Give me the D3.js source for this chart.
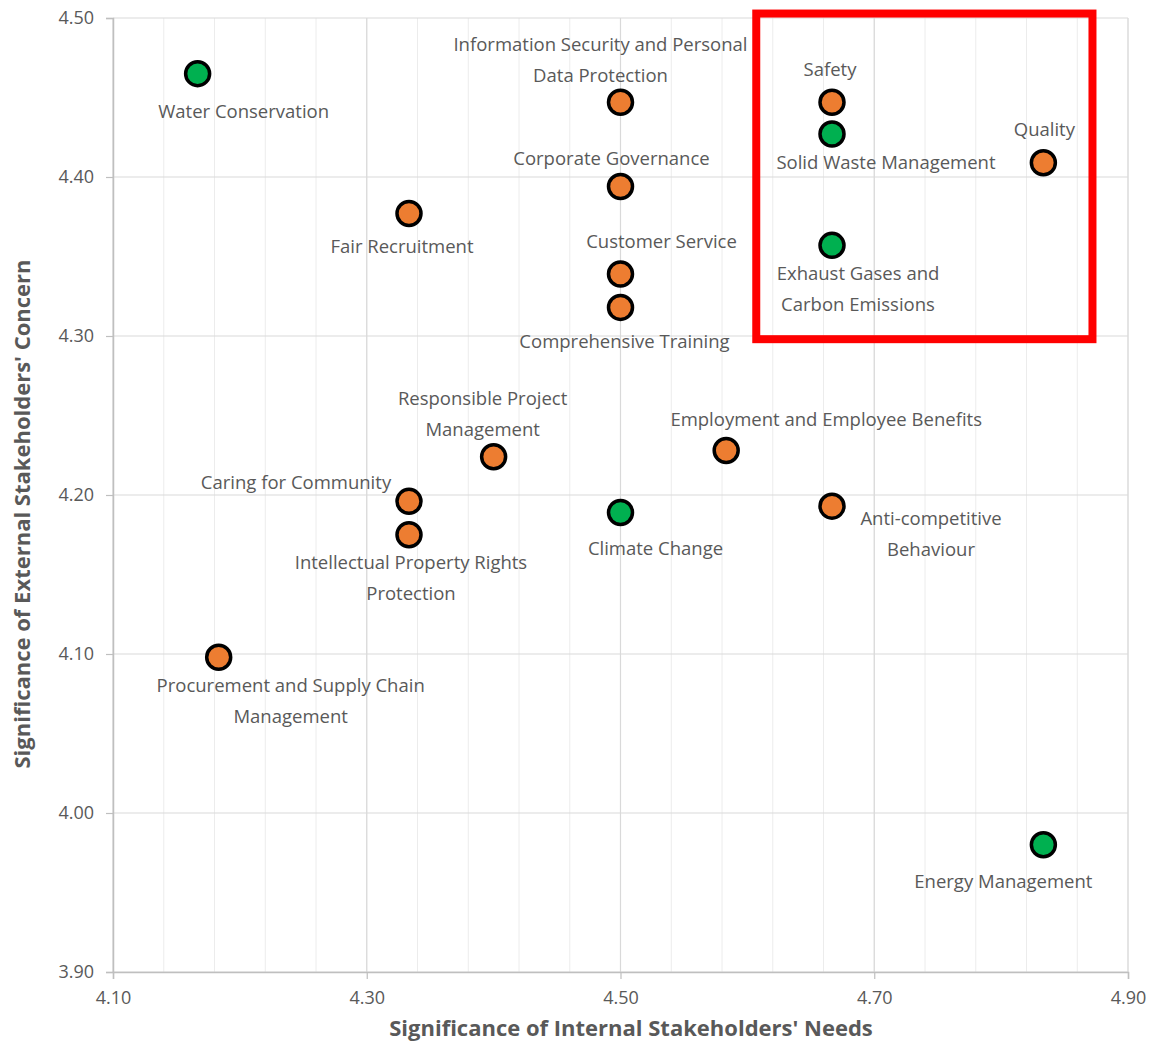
<!DOCTYPE html>
<html><head><meta charset="utf-8">
<script src="https://cdn.jsdelivr.net/npm/d3@7"></script>
<style>body{margin:0;background:#fff;} text{font-family:"Open Sans",sans-serif;}</style>
</head><body>
<svg id="c" width="1154" height="1043"></svg>
<script>
// ---- data ----
const topics = ["Water Conservation","Information Security and Personal Data Protection","Safety","Solid Waste Management","Quality","Corporate Governance","Fair Recruitment","Exhaust Gases and Carbon Emissions","Customer Service","Comprehensive Training","Responsible Project Management","Employment and Employee Benefits","Caring for Community","Intellectual Property Rights Protection","Climate Change","Anti-competitive Behaviour","Procurement and Supply Chain Management","Energy Management"];
const internalNeeds = [4.1667,4.5,4.6667,4.6667,4.8333,4.5,4.3333,4.6667,4.5,4.5,4.4,4.5833,4.3333,4.3333,4.5,4.6667,4.1833,4.8333];
const externalConcern = [4.465,4.447,4.447,4.427,4.409,4.394,4.377,4.357,4.339,4.318,4.224,4.228,4.196,4.175,4.189,4.193,4.098,3.980];
const group = ["env","soc","soc","env","soc","soc","soc","env","soc","soc","soc","soc","soc","soc","env","soc","soc","env"];
const xTicks = [4.10,4.30,4.50,4.70,4.90];
const yTicks = [3.90,4.00,4.10,4.20,4.30,4.40,4.50];
const highlightBox = {x0:4.607, x1:4.872, y0:4.298, y1:4.5028};

// ---- layout ----
const colors = {env:"#00B050", soc:"#ED7D31"};
const labelLayout = {
 "Water Conservation":{lines:["Water Conservation"],dx:46,dy:38},
 "Information Security and Personal Data Protection":{lines:["Information Security and Personal","Data Protection"],dx:-20,dy:-58},
 "Safety":{lines:["Safety"],dx:-2,dy:-33},
 "Solid Waste Management":{lines:["Solid Waste Management"],dx:54,dy:28},
 "Quality":{lines:["Quality"],dx:1,dy:-33},
 "Corporate Governance":{lines:["Corporate Governance"],dx:-9,dy:-28},
 "Fair Recruitment":{lines:["Fair Recruitment"],dx:-7,dy:33},
 "Exhaust Gases and Carbon Emissions":{lines:["Exhaust Gases and","Carbon Emissions"],dx:26,dy:28},
 "Customer Service":{lines:["Customer Service"],dx:41,dy:-32},
 "Comprehensive Training":{lines:["Comprehensive Training"],dx:4,dy:34},
 "Responsible Project Management":{lines:["Responsible Project","Management"],dx:-11,dy:-58},
 "Employment and Employee Benefits":{lines:["Employment and Employee Benefits"],dx:100,dy:-31},
 "Caring for Community":{lines:["Caring for Community"],dx:-113,dy:-19},
 "Intellectual Property Rights Protection":{lines:["Intellectual Property Rights","Protection"],dx:2,dy:28},
 "Climate Change":{lines:["Climate Change"],dx:35,dy:36},
 "Anti-competitive Behaviour":{lines:["Anti-competitive","Behaviour"],dx:99,dy:12},
 "Procurement and Supply Chain Management":{lines:["Procurement and Supply Chain","Management"],dx:72,dy:28},
 "Energy Management":{lines:["Energy Management"],dx:-40,dy:37}
};

const svg = d3.select("#c");
const L=113,R=1128,T=18,B=972;
const x = d3.scaleLinear().domain([4.10,4.90]).range([L,R]);
const y = d3.scaleLinear().domain([3.90,4.50]).range([B,T]);
const grey="#595959";

const minorX = d3.range(0,21).map(i=>4.10+i*0.04);
svg.append("g").selectAll("line").data(minorX).join("line")
 .attr("x1",d=>x(d)).attr("x2",d=>x(d)).attr("y1",T).attr("y2",B)
 .attr("stroke","#ececec").attr("stroke-width",1);
svg.append("g").selectAll("line").data(xTicks).join("line")
 .attr("x1",d=>x(d)).attr("x2",d=>x(d)).attr("y1",T).attr("y2",B)
 .attr("stroke","#d9d9d9").attr("stroke-width",1.2);
svg.append("g").selectAll("line").data(yTicks).join("line")
 .attr("x1",L).attr("x2",R).attr("y1",d=>y(d)).attr("y2",d=>y(d))
 .attr("stroke","#d9d9d9").attr("stroke-width",1.2);

const xAxis = svg.append("g").attr("transform",`translate(0,${B})`)
 .call(d3.axisBottom(x).tickValues(xTicks).tickFormat(d3.format(".2f")).tickSize(7).tickPadding(12));
const yAxis = svg.append("g").attr("transform",`translate(${L},0)`)
 .call(d3.axisLeft(y).tickValues(yTicks).tickFormat(d3.format(".2f")).tickSize(7).tickPadding(12));
[xAxis,yAxis].forEach(a=>{
 a.attr("font-size",18).attr("font-family","'Open Sans',sans-serif");
 a.select(".domain").attr("stroke","#bfbfbf").attr("stroke-width",1.5);
 a.selectAll(".tick line").attr("stroke","#bfbfbf").attr("stroke-width",1.2);
 a.selectAll(".tick text").attr("fill",grey).attr("font-size",18).style("font-size","18px");
});

svg.append("text").attr("x",631).attr("y",1036).attr("text-anchor","middle")
 .style("font-size","22px").attr("font-weight","bold").attr("fill",grey)
 .text("Significance of Internal Stakeholders' Needs");
svg.append("text").attr("transform","translate(30,514) rotate(-90)").attr("text-anchor","middle")
 .style("font-size","22px").attr("font-weight","bold").attr("fill",grey)
 .text("Significance of External Stakeholders' Concern");

const pts = topics.map((t,i)=>({t,xv:internalNeeds[i],yv:externalConcern[i],g:group[i]}));
svg.append("g").selectAll("circle").data(pts).join("circle")
 .attr("cx",d=>x(d.xv)).attr("cy",d=>y(d.yv)).attr("r",12)
 .attr("fill",d=>colors[d.g]).attr("stroke","#000").attr("stroke-width",3.5);

const lg = svg.append("g");
pts.forEach(d=>{
 const l = labelLayout[d.t];
 const cx = x(d.xv)+l.dx, cy = y(d.yv)+l.dy;
 l.lines.forEach((s,k)=>{
  lg.append("text").attr("x",cx).attr("y",cy+k*31).attr("dy","0.35em")
   .attr("text-anchor","middle").style("font-size","18.5px").attr("fill",grey).text(s);
 });
});

svg.append("rect").attr("x",x(highlightBox.x0)).attr("y",y(highlightBox.y1))
 .attr("width",x(highlightBox.x1)-x(highlightBox.x0)).attr("height",y(highlightBox.y0)-y(highlightBox.y1))
 .attr("fill","none").attr("stroke","#ff0000").attr("stroke-width",8);
</script>
</body></html>
